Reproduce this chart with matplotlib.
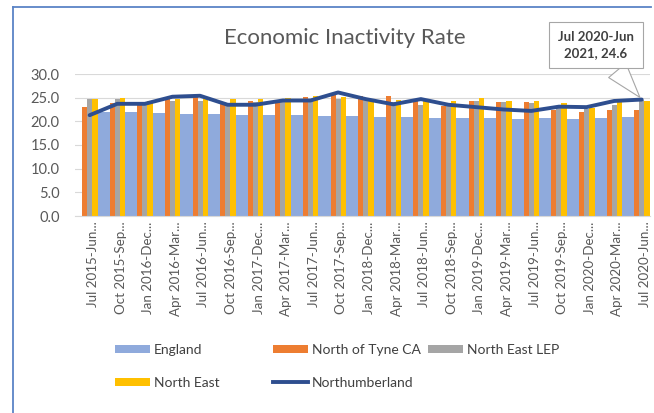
import numpy as np
import matplotlib.pyplot as plt
from matplotlib.lines import Line2D
from matplotlib.patches import Patch

plt.rcParams['font.family'] = ['Lato', 'DejaVu Sans']

# rolling annual periods (labels are cut off in the chart)
tick_labels = ["Jul 2015-Jun...", "Oct 2015-Sep...", "Jan 2016-Dec...", "Apr 2016-Mar...",
               "Jul 2016-Jun...", "Oct 2016-Sep...", "Jan 2017-Dec...", "Apr 2017-Mar...",
               "Jul 2017-Jun...", "Oct 2017-Sep...", "Jan 2018-Dec...", "Apr 2018-Mar...",
               "Jul 2018-Jun...", "Oct 2018-Sep...", "Jan 2019-Dec...", "Apr 2019-Mar...",
               "Jul 2019-Jun...", "Oct 2019-Sep...", "Jan 2020-Dec...", "Apr 2020-Mar...",
               "Jul 2020-Jun..."]

england = [21.9, 21.9, 21.7, 21.55, 21.55, 21.3, 21.3, 21.3, 21.2, 21.2, 21.0,
           20.85, 20.8, 20.75, 20.6, 20.55, 20.6, 20.55, 20.6, 20.9, 21.2]
north_of_tyne = [23.1, 23.9, 23.4, 24.7, 25.1, 23.6, 24.2, 24.1, 25.1, 25.7, 25.35,
                 25.35, 24.3, 23.3, 24.4, 24.15, 24.15, 22.5, 22.0, 22.4, 22.4]
ne_lep = [24.65, 24.7, 23.6, 24.2, 24.4, 23.5, 24.0, 24.4, 24.3, 24.65, 24.65,
          24.0, 23.45, 23.3, 24.4, 24.0, 23.8, 23.0, 22.7, 23.45, 24.55]
north_east = [24.65, 24.85, 24.4, 24.7, 24.7, 24.65, 24.65, 24.85, 25.3, 25.1, 24.5,
              24.5, 24.3, 24.3, 25.0, 24.4, 24.3, 23.8, 22.9, 24.0, 24.2]
northumberland = [21.3, 23.7, 23.7, 25.2, 25.4, 23.5, 23.5, 24.4, 24.4, 26.1, 24.7,
                  23.6, 24.7, 23.5, 23.0, 22.5, 22.2, 23.1, 23.0, 24.3, 24.6]

c_eng = '#8FAADC'
c_not = '#ED7D31'
c_lep = '#A5A5A5'
c_ne = '#FFC000'
c_line = '#2E4E8F'
txt = '#595959'

W, H = 654, 413
fig = plt.figure(figsize=(W / 100, H / 100), dpi=100)
ax = fig.add_axes([75 / W, 1 - 216 / H, 575 / W, 142 / H])

x = np.arange(len(tick_labels))
ax.bar(x + 0.51, england, width=0.44, color=c_eng, lw=0, zorder=1)
ax.bar(x - 0.18, north_of_tyne, width=0.18, color=c_not, lw=0, zorder=2)
ax.bar(x, ne_lep, width=0.18, color=c_lep, lw=0, zorder=2)
ax.bar(x + 0.19, north_east, width=0.2, color=c_ne, lw=0, zorder=2)
ax.plot(x, northumberland, color=c_line, lw=2.8, solid_joinstyle='round',
        solid_capstyle='round', zorder=3)

ax.set_xlim(-0.53, 20.3)
ax.set_ylim(0, 30)
ax.set_yticks(np.arange(0, 31, 5))
ax.set_yticklabels([f"{v:.1f}" for v in np.arange(0, 31, 5)])
ax.set_xticks(x + 0.12)
ax.set_xticklabels(tick_labels, rotation=90, va='top', ha='center')
ax.set_axisbelow(True)
ax.yaxis.grid(True, color='#D9D9D9', lw=0.8)
for s in ['top', 'right', 'left']:
    ax.spines[s].set_visible(False)
ax.spines['bottom'].set_color('#D9D9D9')
ax.tick_params(axis='y', length=0, pad=11, labelsize=10.5, labelcolor=txt)
ax.tick_params(axis='x', length=0, pad=4, labelsize=9.6, labelcolor=txt)

fig.text(345 / W, 1 - 38 / H, "Economic Inactivity Rate", ha='center', va='center',
         fontsize=16, color=txt)

# callout on the last point
ax.annotate("Jul 2020-Jun\n2021, 24.6", xy=(x[-1], northumberland[-1]), xycoords='data',
            xytext=(596 / W, 1 - 45 / H), textcoords='figure fraction',
            ha='center', va='center', fontsize=9.5, fontweight='bold', color='#404040',
            linespacing=1.45,
            bbox=dict(boxstyle='square,pad=0.65', fc='white', ec='#A6A6A6', lw=0.8),
            arrowprops=dict(arrowstyle='wedge,tail_width=1.7,shrink_factor=0.5',
                            fc='white', ec='#A6A6A6', lw=0.8),
            annotation_clip=False, zorder=5)

# chart border (left and top visible)
fig.add_artist(Line2D([13 / W, 13 / W], [0, 1 - 7 / H], transform=fig.transFigure,
                      color='#5B83C6', lw=1.3))
fig.add_artist(Line2D([13 / W, 651 / W], [1 - 7 / H, 1 - 7 / H], transform=fig.transFigure,
                      color='#5B83C6', lw=1.3))

h_eng = Patch(facecolor=c_eng, edgecolor='none')
h_not = Patch(facecolor=c_not, edgecolor='none')
h_lep = Patch(facecolor=c_lep, edgecolor='none')
h_ne = Patch(facecolor=c_ne, edgecolor='none')
h_line = Line2D([], [], color=c_line, lw=2.8)

leg_kw = dict(loc='upper left', frameon=False, borderpad=0, borderaxespad=0,
              handlelength=2.5, handleheight=0.5, handletextpad=0.3,
              labelspacing=1.5, fontsize=10, labelcolor='#404040')
fig.legend([h_eng, h_ne], ['England', 'North East'],
           bbox_to_anchor=(115 / W, 1 - 344 / H), **leg_kw)
fig.legend([h_not, h_line], ['North of Tyne CA', 'Northumberland'],
           bbox_to_anchor=(273 / W, 1 - 344 / H), **leg_kw)
fig.legend([h_lep], ['North East LEP'],
           bbox_to_anchor=(428 / W, 1 - 344 / H), **leg_kw)

fig.savefig('out.png', dpi=100)
